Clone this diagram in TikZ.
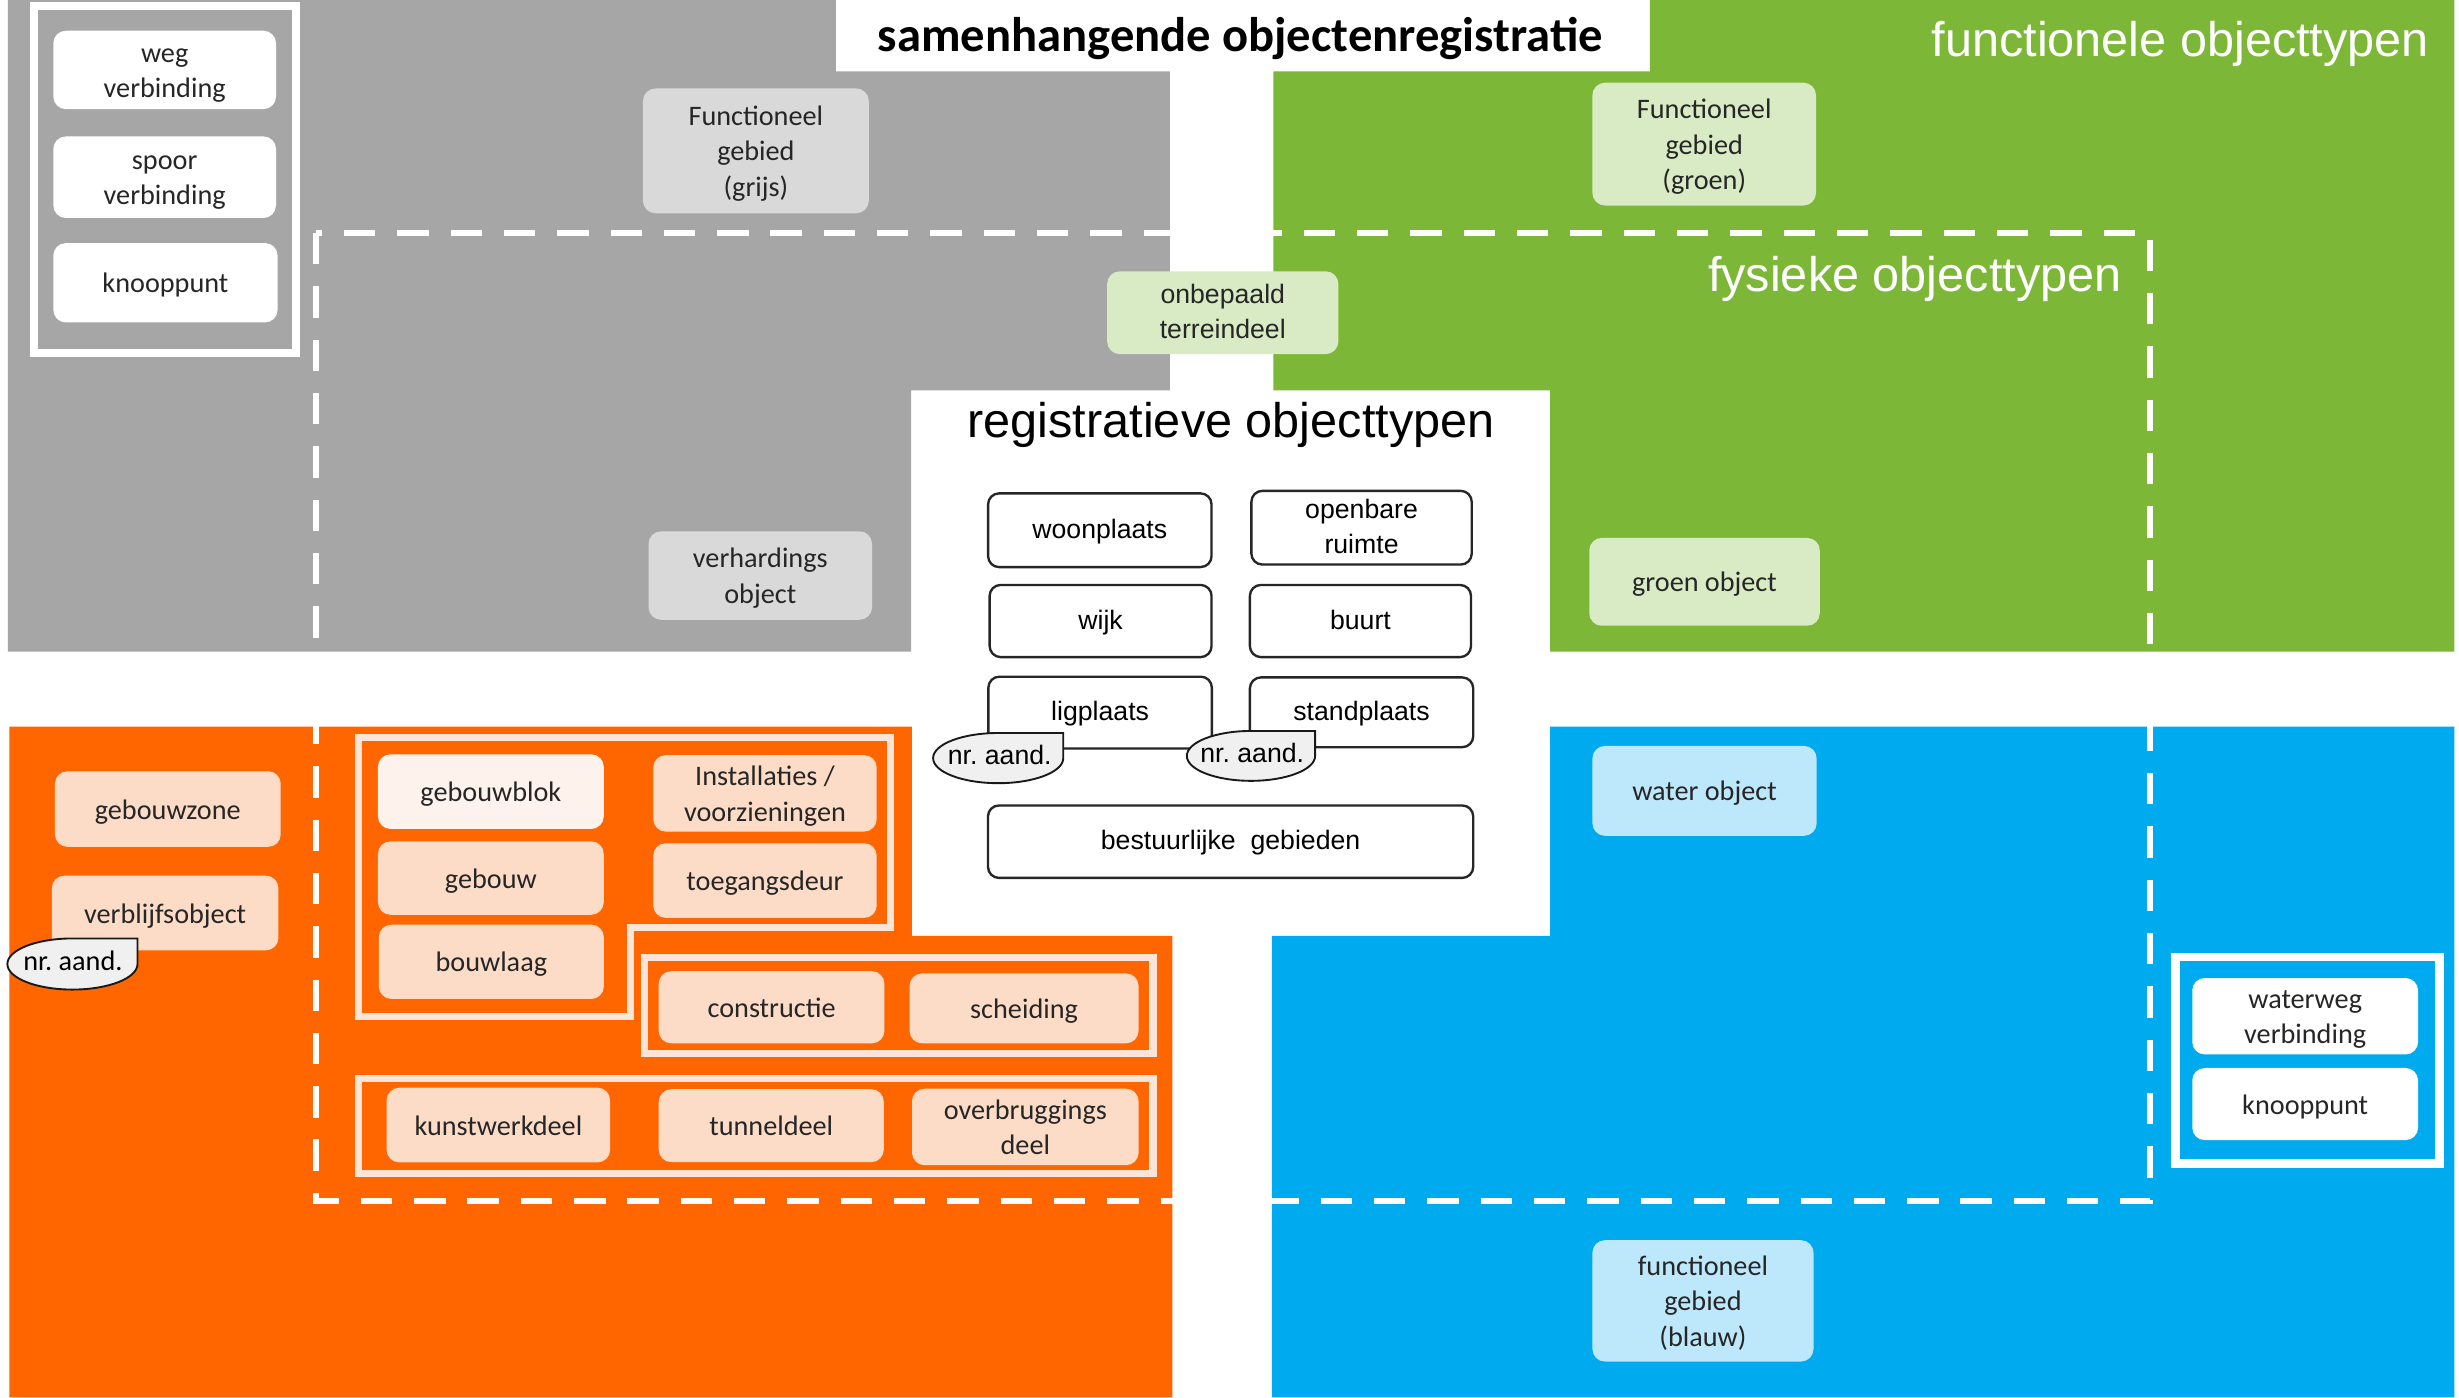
\documentclass[tikz,border=0pt]{standalone}
\usepackage{fontspec}
\setmainfont{Carlito}
\newfontfamily\arialf{Liberation Sans}
\definecolor{cgray}{HTML}{A6A6A6}
\definecolor{cgreen}{HTML}{7DB737}
\definecolor{corange}{HTML}{FF6600}
\definecolor{cblue}{HTML}{00AAEF}
\definecolor{lgray}{HTML}{D9D9D9}
\definecolor{lgreen}{HTML}{D8EBC4}
\definecolor{lpeach}{HTML}{FCDCC7}
\definecolor{lpeachw}{HTML}{FDF2EC}
\definecolor{lblue}{HTML}{BDE7FB}
\definecolor{oframe}{HTML}{FCE4D6}
\definecolor{nafill}{HTML}{F0F0F0}
\definecolor{txtc}{HTML}{262626}
\newcommand\tsx{\rule{0pt}{19.5pt}}
\newcommand\rsx{\rule{0pt}{17.2pt}}
\newcommand\naandshape[4]{%
\begin{scope}[shift={(#1,#2)}]
\filldraw[fill=nafill, draw=black!90, line width=1.2pt] (#3,0) -- (#3,-#4) -- (0,-#4)
 .. controls (-0.5523*#3,-#4) and (-#3,-0.5523*#4) .. (-#3,0)
 .. controls (-#3,0.5523*#4) and (-0.5523*#3,#4) .. (0,#4)
 .. controls (0.5523*#3,#4) and (#3,0.5523*#4) .. (#3,0) -- cycle;
\end{scope}}
\begin{document}
\begin{tikzpicture}[x=1pt,y=-1pt,
  sz/.style 2 args={minimum width=#1pt, minimum height=#2pt},
  cbox/.style={rounded corners=8pt, align=center, inner sep=0pt, text=txtc,
     font=\fontsize{18}{22.5}\selectfont},
  rbox/.style={draw=black!85, line width=1.5pt, fill=white, rounded corners=7pt,
     align=center, inner sep=0pt, text=black, font=\arialf\fontsize{17}{22}\selectfont},
  wframe/.style={draw=white, line width=5pt},
  oframe/.style={draw=oframe, line width=4.5pt},
  dashline/.style={draw=white, line width=4pt, dash pattern=on 20pt off 14pt},
  bigw/.style={text=white, inner sep=0pt, font=\arialf\fontsize{31}{31}\selectfont}]
\useasboundingbox (0,0) rectangle (1568,891);
\fill[white] (0,0) rectangle (1568,891);
% regions
\fill[cgray] (5,0) -- (533,0) -- (533,45.5) -- (746,45.5) -- (746,249) -- (581,249) -- (581,415.5) -- (5,415.5) -- cycle;
\fill[cgreen] (812,45.5) -- (1052,45.5) -- (1052,0) -- (1565,0) -- (1565,415.5) -- (988.4,415.5) -- (988.4,249) -- (812,249) -- cycle;
\fill[corange] (6,463.4) -- (581.5,463.4) -- (581.5,596.7) -- (747.5,596.7) -- (747.5,891) -- (6,891) -- cycle;
\fill[cblue] (988.4,463.4) -- (1565,463.4) -- (1565,891) -- (811,891) -- (811,596.7) -- (988.4,596.7) -- cycle;
% dashed boundary of physical object types
\draw[dashline] (201.5,148.6) rectangle (1371,766);
% frames
\draw[wframe] (21.5,4) rectangle (189,225.3);
\draw[wframe, line width=5.5pt] (1387.2,610.2) rectangle (1555.6,742.1);
\draw[oframe] (228.3,470) -- (567.7,470) -- (567.7,591.5) -- (402.3,591.5) -- (402.3,648.2) -- (228.3,648.2) -- cycle;
\draw[oframe] (410.8,610.3) rectangle (735.2,671.7);
\draw[oframe] (228.3,687.7) rectangle (735.2,748.3);
% titles
\node[font=\bfseries\fontsize{31}{31}\selectfont, inner sep=0pt] (title) at (791,24.5) {samenhangende objectenregistratie};
\node[bigw, anchor=east] (func) at (1549,28) {functionele objecttypen};
\node[bigw, anchor=east] (fys) at (1353,178) {fysieke objecttypen};
\node[bigw, text=black] (reg) at (785,271) {registratieve objecttypen};
% gray region nodes
\node[cbox, fill=white, sz={142}{50}] (weg) at (105,44.6) {\tsx weg\\verbinding\strut};
\node[cbox, fill=white, sz={142}{52}] (spoor) at (105,113) {\tsx spoor\\verbinding\strut};
\node[cbox, fill=white, sz={143}{50.6}] (knoop1) at (105.5,180.3) {\tsx knooppunt\strut};
\node[cbox, fill=lgray, sz={144}{79.6}] (fgg) at (482,96.2) {\tsx Functioneel\\gebied\\(grijs)\strut};
\node[cbox, fill=lgray, sz={142.5}{56.4}] (verh) at (484.8,367) {\tsx verhardings\\object\strut};
\node[cbox, fill=lgreen, sz={147.4}{52.8}, font=\arialf\fontsize{17}{22}\selectfont] (onb) at (779.7,199.4) {\rsx onbepaald\\terreindeel\strut};
% green region nodes
\node[cbox, fill=lgreen, sz={142.6}{78.3}] (fggr) at (1086.7,91.9) {\tsx Functioneel\\gebied\\(groen)\strut};
\node[cbox, fill=lgreen, sz={147}{56}] (groen) at (1086.9,371) {\tsx groen object\strut};
% registratieve nodes
\node[rbox, sz={142.5}{47}] (woon) at (701.3,338.1) {\rsx woonplaats\strut};
\node[rbox, sz={140.5}{47}] (openb) at (868.2,336.5) {\rsx openbare\\ruimte\strut};
\node[rbox, sz={141.5}{46}] (wijk) at (701.8,396) {\rsx wijk\strut};
\node[rbox, sz={141}{46}] (buurt) at (867.5,396) {\rsx buurt\strut};
\node[rbox, sz={142.5}{45.8}] (lig) at (701.5,454.4) {\rsx ligplaats\strut};
\node[rbox, sz={142.4}{44.5}] (stand) at (868.2,454.2) {\rsx standplaats\strut};
\node[rbox, sz={309.4}{46.2}] (best) at (784.7,536.7) {\rsx bestuurlijke\ \ gebieden\strut};
\naandshape{636.5}{483.4}{41.5}{16}
\node[font=\arialf\fontsize{17}{20}\selectfont, inner sep=0pt] (na1) at (637.5,483.4) {\strut nr.\ aand.};
\naandshape{797.7}{482}{40.9}{15.9}
\node[font=\arialf\fontsize{17}{20}\selectfont, inner sep=0pt] (na2) at (798.5,482) {\strut nr.\ aand.};
% orange region nodes
\node[cbox, fill=lpeach, sz={144}{48.2}] (gzone) at (107,515.9) {\tsx gebouwzone\strut};
\node[cbox, fill=lpeach, sz={144.5}{47.6}] (verbl) at (105.3,582.2) {\tsx verblijfsobject\strut};
\naandshape{46.2}{614.7}{41.5}{16.3}
\node[font=\fontsize{18}{20}\selectfont, inner sep=0pt] (na3) at (46.5,614.7) {\strut nr.\ aand.};
\node[cbox, fill=lpeachw, sz={144}{47.6}] (gblok) at (313,504.8) {\tsx gebouwblok\strut};
\node[cbox, fill=lpeach, sz={142.5}{48.2}] (inst) at (487.8,505.9) {\tsx Installaties /\\voorzieningen\strut};
\node[cbox, fill=lpeach, sz={144}{46.8}] (gebouw) at (313,559.9) {\tsx gebouw\strut};
\node[cbox, fill=lpeach, sz={142.5}{47.6}] (toeg) at (487.8,561.5) {\tsx toegangsdeur\strut};
\node[cbox, fill=lpeach, sz={143.5}{47.4}] (bouwl) at (313.3,613.3) {\tsx bouwlaag\strut};
\node[cbox, fill=lpeach, sz={144}{46}] (constr) at (492,642.3) {\tsx constructie\strut};
\node[cbox, fill=lpeach, sz={146}{44.6}] (scheid) at (653,643) {\tsx scheiding\strut};
\node[cbox, fill=lpeach, sz={142.5}{47.6}] (kunst) at (317.8,717.4) {\tsx kunstwerkdeel\strut};
\node[cbox, fill=lpeach, sz={143.5}{46.5}] (tunnel) at (491.8,717.8) {\tsx tunneldeel\strut};
\node[cbox, fill=lpeach, sz={144.5}{48}] (overbr) at (653.8,718.6) {\tsx overbruggings\\deel\strut};
% blue region nodes
\node[cbox, fill=lblue, sz={143}{57.3}] (water) at (1086.9,504.3) {\tsx water object\strut};
\node[cbox, fill=lblue, sz={141}{77.4}] (fgb) at (1085.9,829.5) {\tsx functioneel\\gebied\\(blauw)\strut};
\node[cbox, fill=white, sz={144}{48.7}] (wweg) at (1469.9,648) {\tsx waterweg\\verbinding\strut};
\node[cbox, fill=white, sz={144}{46}] (knoop2) at (1469.9,704) {\tsx knooppunt\strut};
\end{tikzpicture}
\end{document}
